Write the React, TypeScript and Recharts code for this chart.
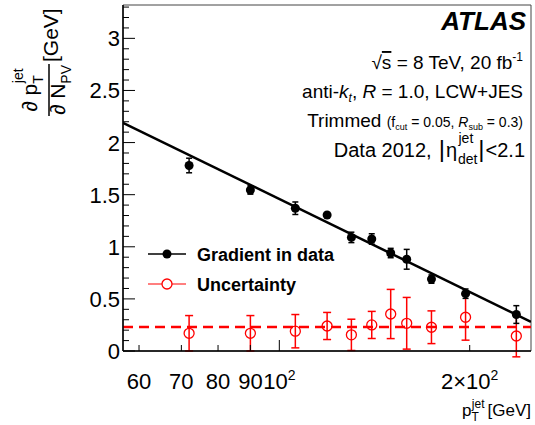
import React from "react";
import {
  ScatterChart,
  Scatter,
  XAxis,
  YAxis,
  ErrorBar,
  ReferenceLine,
  ReferenceArea,
  Customized,
} from "recharts";

// pT^jet bin centres [GeV]
const PT = [72, 90, 106, 119, 130, 140, 150, 159, 174, 197, 237];
// measured gradient d pT / d NPV [GeV]
const GRADIENT = [1.78, 1.545, 1.37, 1.305, 1.09, 1.075, 0.94, 0.88, 0.69, 0.55, 0.35];
const GRADIENT_ERR = [0.07, 0.04, 0.06, 0.02, 0.05, 0.05, 0.045, 0.095, 0.04, 0.045, 0.085];
// uncertainty points
const UNCERT = [0.17, 0.17, 0.19, 0.24, 0.155, 0.25, 0.355, 0.266, 0.228, 0.324, 0.144];
const UNCERT_ERR = [0.17, 0.17, 0.16, 0.13, 0.15, 0.13, 0.236, 0.248, 0.157, 0.22, 0.2];
const UNCERT_MEAN = 0.23;
// straight-line fit (in log pT), end points
const FIT_PT = [56.6, 250];
const FIT_VAL = [2.19, 0.28];

const X_DOMAIN = [56.6, 250];
const Y_DOMAIN = [0, 3.32];
const X_TICKS = [60, 70, 80, 90, 100, 200];
const Y_TICKS = [
  0, 0.1, 0.2, 0.3, 0.4, 0.5, 0.6, 0.7, 0.8, 0.9, 1, 1.1, 1.2, 1.3, 1.4, 1.5, 1.6,
  1.7, 1.8, 1.9, 2, 2.1, 2.2, 2.3, 2.4, 2.5, 2.6, 2.7, 2.8, 2.9, 3, 3.1, 3.2, 3.3,
];

const gradientData = PT.map((x, i) => ({ x, y: GRADIENT[i], err: GRADIENT_ERR[i] }));
const uncertData = PT.map((x, i) => ({ x, y: UNCERT[i], err: UNCERT_ERR[i] }));
const fitData = FIT_PT.map((x, i) => ({ x, y: FIT_VAL[i] }));

const FONT = "'Liberation Sans', Arial, Helvetica, sans-serif";
const RED = "#ff0000";
const PLOT_LEFT = 123;
const PLOT_BOTTOM = 351;

const YTick = (props: any) => {
  const { y, payload } = props;
  const v = payload.value;
  const major = Math.abs(v * 2 - Math.round(v * 2)) < 1e-6;
  return (
    <g>
      <line x1={PLOT_LEFT} x2={PLOT_LEFT + (major ? 12 : 6)} y1={y} y2={y} stroke="#000" strokeWidth={1} />
      {major && (
        <text x={PLOT_LEFT - 3} y={y + 8} textAnchor="end" fontSize={22} fontFamily={FONT} fill="#000">
          {String(v)}
        </text>
      )}
    </g>
  );
};

const XTick = (props: any) => {
  const { x, payload } = props;
  const v = payload.value;
  let label: React.ReactNode = String(v);
  if (v === 100)
    label = (
      <>
        10<tspan dy={-9} fontSize={14}>2</tspan>
      </>
    );
  if (v === 200)
    label = (
      <>
        2×10<tspan dy={-9} fontSize={14}>2</tspan>
      </>
    );
  return (
    <g>
      <line x1={x} x2={x} y1={PLOT_BOTTOM} y2={PLOT_BOTTOM - (v === 100 ? 11 : 6)} stroke="#000" strokeWidth={1} />
      <text x={x} y={389} textAnchor="middle" fontSize={22} fontFamily={FONT} fill="#000">
        {label}
      </text>
    </g>
  );
};

const Dot = (props: any) => <circle cx={props.cx} cy={props.cy} r={4.5} fill="#000" />;
const OpenDot = (props: any) => (
  <circle cx={props.cx} cy={props.cy} r={5} fill="none" stroke={RED} strokeWidth={1.3} />
);
const NoDot = () => <g />;

const Annotations = () => (
  <g fontFamily={FONT} fill="#000">
    {/* y axis title */}
    <g transform="rotate(-90)">
      <text x={-90} y={37} textAnchor="middle" fontSize={21}>
        ∂ p<tspan dy={6} fontSize={14}>T</tspan>
        <tspan dx={-8} dy={-20} fontSize={14}>jet</tspan>
      </text>
      <line x1={-116} x2={-64} y1={49} y2={49} stroke="#000" strokeWidth={1.5} />
      <text x={-90} y={65} textAnchor="middle" fontSize={21}>
        ∂ N<tspan dy={6} fontSize={14}>PV</tspan>
      </text>
      <text x={-62} y={58} textAnchor="start" fontSize={21}>[GeV]</text>
    </g>
    {/* x axis title */}
    <text x={531} y={416} textAnchor="end" fontSize={17}>
      p<tspan dy={5} fontSize={12}>T</tspan>
      <tspan dx={-7} dy={-13} fontSize={12}>jet</tspan>
      <tspan dx={3} dy={8}>[GeV]</tspan>
    </text>

    {/* labels */}
    <text x={526} y={30} textAnchor="end" fontSize={26} fontWeight="bold" fontStyle="italic">ATLAS</text>
    <text x={523} y={69} textAnchor="end" fontSize={19}>
      √<tspan style={{ textDecoration: "overline" }}>s</tspan> = 8 TeV, 20 fb
      <tspan dy={-8} fontSize={12}>-1</tspan>
    </text>
    <text x={523} y={98} textAnchor="end" fontSize={19}>
      anti-<tspan fontStyle="italic">k</tspan>
      <tspan dy={4} fontSize={12} fontStyle="italic">t</tspan>
      <tspan dy={-4}>, </tspan>
      <tspan fontStyle="italic">R</tspan> = 1.0, LCW+JES
    </text>
    <text x={523} y={127} textAnchor="end" fontSize={19}>
      Trimmed <tspan fontSize={14}>(f</tspan>
      <tspan dy={3} fontSize={9}>cut</tspan>
      <tspan dy={-3} fontSize={14}> = 0.05, </tspan>
      <tspan fontSize={14} fontStyle="italic">R</tspan>
      <tspan dy={3} fontSize={9}>sub</tspan>
      <tspan dy={-3} fontSize={14}> = 0.3)</tspan>
    </text>
    <text x={525} y={157} textAnchor="end" fontSize={20}>
      Data 2012,<tspan dx={7} fontSize={24}>|</tspan>
      <tspan dx={1}>η</tspan>
      <tspan dx={1} dy={7} fontSize={14}>det</tspan>
      <tspan dx={-19} dy={-21} fontSize={14}>jet</tspan>
      <tspan dx={5} dy={14} fontSize={24}>|</tspan>
      <tspan dx={1}>&lt;2.1</tspan>
    </text>

    {/* legend */}
    <line x1={148} x2={186} y1={254} y2={254} stroke="#000" strokeWidth={1.5} />
    <circle cx={167} cy={254} r={4.5} fill="#000" />
    <text x={197} y={261} fontSize={18} fontWeight="bold">Gradient in data</text>
    <line x1={148} x2={186} y1={284} y2={284} stroke={RED} strokeWidth={1.2} />
    <circle cx={167} cy={284} r={5} fill="#fff" stroke={RED} strokeWidth={1.3} />
    <text x={197} y={291} fontSize={18} fontWeight="bold">Uncertainty</text>
  </g>
);

export default function App() {
  return (
    <div style={{ position: "absolute", left: 0, top: 0, background: "#fff" }}>
      <ScatterChart
        width={535}
        height={425}
        margin={{ top: 5, right: 4, bottom: 0, left: 0 }}
        style={{ fontFamily: FONT }}
      >
        <XAxis
          dataKey="x"
          type="number"
          scale="log"
          domain={X_DOMAIN}
          allowDataOverflow
          ticks={X_TICKS}
          interval={0}
          tick={<XTick />}
          tickLine={false}
          axisLine={{ stroke: "#000", strokeWidth: 1.5 }}
          height={74}
        />
        <YAxis
          dataKey="y"
          type="number"
          domain={Y_DOMAIN}
          allowDataOverflow
          ticks={Y_TICKS}
          interval={0}
          tick={<YTick />}
          tickLine={false}
          axisLine={{ stroke: "#000", strokeWidth: 1.5 }}
          width={123}
        />
        <ReferenceArea
          x1={X_DOMAIN[0]}
          x2={X_DOMAIN[1]}
          y1={Y_DOMAIN[0]}
          y2={Y_DOMAIN[1]}
          fill="none"
          stroke="#444"
          strokeWidth={1}
        />
        <ReferenceLine y={UNCERT_MEAN} stroke={RED} strokeWidth={2.5} strokeDasharray="10 6" />
        <Scatter data={uncertData} shape={<OpenDot />} isAnimationActive={false}>
          <ErrorBar dataKey="err" direction="y" width={4} stroke={RED} strokeWidth={1.5} />
        </Scatter>
        <Scatter
          data={fitData}
          shape={<NoDot />}
          line={{ stroke: "#000", strokeWidth: 2.5 }}
          isAnimationActive={false}
        />
        <Scatter data={gradientData} shape={<Dot />} isAnimationActive={false}>
          <ErrorBar dataKey="err" direction="y" width={3} stroke="#000" strokeWidth={1.5} />
        </Scatter>
        <Customized component={Annotations} />
      </ScatterChart>
    </div>
  );
}
